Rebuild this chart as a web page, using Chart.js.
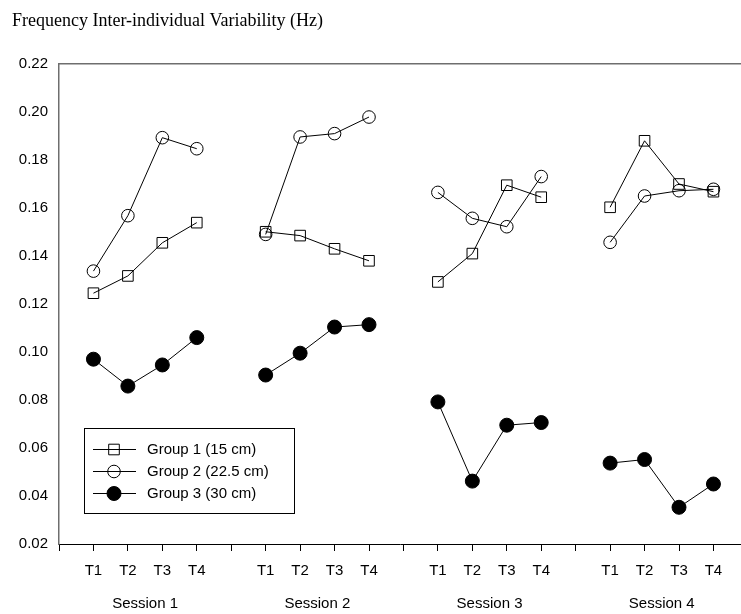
<!DOCTYPE html>
<html>
<head>
<meta charset="utf-8">
<script src="https://cdn.jsdelivr.net/npm/chart.js@4.4.1/dist/chart.umd.min.js"></script>
<style>
  body { margin: 0; background: #fff; }
  #wrap { width: 741px; height: 614px; }
</style>
</head>
<body>
<div id="wrap"><canvas id="freqChart" width="741" height="614"></canvas></div>
<script>
// values per session (T1..T4 of session 1, then session 2, ...)
var timeLabels = ['T1', 'T2', 'T3', 'T4'];
var sessionLabels = ['Session 1', 'Session 2', 'Session 3', 'Session 4'];
var group1 = [0.1245, 0.1317, 0.1455, 0.1539, 0.1501, 0.1485, 0.1430, 0.1380,
              0.1292, 0.1410, 0.1695, 0.1645, 0.1603, 0.1880, 0.1700, 0.1668];
var group2 = [0.1337, 0.1568, 0.1893, 0.1847, 0.1490, 0.1896, 0.1910, 0.1979,
              0.1665, 0.1557, 0.1522, 0.1731, 0.1457, 0.1650, 0.1672, 0.1678];
var group3 = [0.0970, 0.0858, 0.0946, 0.1060, 0.0904, 0.0995, 0.1104, 0.1114,
              0.0792, 0.0462, 0.0695, 0.0706, 0.0537, 0.0552, 0.0353, 0.0450];

var perSession = timeLabels.length;
var slot = perSession + 1;   // one empty tick between sessions

// x = session*5 + t + 1, with a null after each session so lines break
function toPoints(values) {
  var pts = [];
  for (var s = 0; s < sessionLabels.length; s++) {
    for (var t = 0; t < perSession; t++) {
      pts.push({ x: s * slot + t + 1, y: values[s * perSession + t] });
    }
    if (s < sessionLabels.length - 1) pts.push({ x: (s + 1) * slot, y: null });
  }
  return pts;
}

// keep the axis boxes at fixed sizes, no extra side padding
function fixHeight(h) {
  return function(scale) {
    scale.height = h;
    scale.paddingLeft = 0;
    scale.paddingRight = 0;
  };
}

// boxed legend inside the plot: short line with the marker on it
var boxLegend = {
  id: 'boxLegend',
  afterDraw: function(chart, args, opts) {
    var ctx = chart.ctx, area = chart.chartArea;
    var x0 = area.left + opts.left, y0 = area.bottom - opts.bottom - opts.height;
    ctx.save();
    ctx.strokeStyle = '#000';
    ctx.lineWidth = 1;
    ctx.strokeRect(x0 + 0.5, y0 + 0.5, opts.width, opts.height);
    ctx.font = opts.font;
    ctx.textBaseline = 'middle';
    chart.data.datasets.forEach(function(ds, i) {
      var y = Math.round(y0 + opts.firstRow + i * opts.rowGap) + 0.5;
      var mx = x0 + 30;
      ctx.beginPath();
      ctx.moveTo(x0 + 9, y);
      ctx.lineTo(x0 + 52, y);
      ctx.stroke();
      ctx.beginPath();
      if (ds.pointStyle === 'circle') {
        ctx.arc(mx, y, ds.pointRadius, 0, Math.PI * 2);
      } else {
        var h = ds.pointRadius * Math.SQRT1_2;
        ctx.rect(mx - h, y - h, 2 * h, 2 * h);
      }
      ctx.fillStyle = ds.pointBackgroundColor;
      ctx.fill();
      ctx.stroke();
      ctx.fillStyle = '#000';
      ctx.fillText(ds.label, x0 + 63, y);
    });
    ctx.restore();
  }
};

Chart.defaults.color = '#000';
Chart.defaults.font.family = "'Liberation Sans', Arial, sans-serif";
Chart.defaults.font.size = 15;

var canvas = document.getElementById('freqChart');
var freqChart = new Chart(canvas, {
  type: 'line',
  data: {
    datasets: [
      {
        label: 'Group 1 (15 cm)',
        data: toPoints(group1),
        borderColor: '#000',
        borderWidth: 1,
        pointStyle: 'rect',
        pointRadius: 7.5,
        pointBorderColor: '#000',
        pointBackgroundColor: 'rgba(255,255,255,0)',
        pointBorderWidth: 1,
        tension: 0,
        fill: false
      },
      {
        label: 'Group 2 (22.5 cm)',
        data: toPoints(group2),
        borderColor: '#000',
        borderWidth: 1,
        pointStyle: 'circle',
        pointRadius: 6.3,
        pointBorderColor: '#000',
        pointBackgroundColor: 'rgba(255,255,255,0)',
        pointBorderWidth: 1,
        tension: 0,
        fill: false
      },
      {
        label: 'Group 3 (30 cm)',
        data: toPoints(group3),
        borderColor: '#000',
        borderWidth: 1,
        pointStyle: 'circle',
        pointRadius: 7,
        pointBorderColor: '#000',
        pointBackgroundColor: '#000',
        pointBorderWidth: 1,
        tension: 0,
        fill: false
      }
    ]
  },
  options: {
    responsive: false,
    animation: false,
    spanGaps: false,
    layout: { autoPadding: false, padding: { left: 12, right: 0, top: 0, bottom: 1 } },
    plugins: {
      legend: { display: false },
      tooltip: { enabled: false },
      title: {
        display: true,
        text: 'Frequency Inter-individual Variability (Hz)',
        align: 'start',
        color: '#000',
        font: { family: "'Liberation Serif', 'Times New Roman', serif", size: 18, weight: 'normal', lineHeight: 1.2 },
        padding: { top: 10, bottom: 32.4 }
      },
      boxLegend: {
        left: 25, bottom: 31, width: 210, height: 85,
        firstRow: 21, rowGap: 22,
        font: "15px 'Liberation Sans', Arial, sans-serif"
      }
    },
    scales: {
      x: {
        type: 'linear',
        position: 'bottom',
        min: 0,
        max: 19.8,
        weight: 0,
        afterBuildTicks: function(scale) {
          var ticks = [];
          for (var i = 0; i < sessionLabels.length * slot; i++) ticks.push({ value: i });
          scale.ticks = ticks;
        },
        afterFit: fixHeight(36),
        ticks: {
          padding: 11,
          autoSkip: false,
          maxRotation: 0,
          callback: function(v) {
            var k = Math.round(v) % slot;
            return k === 0 ? '' : timeLabels[k - 1];
          }
        },
        grid: { display: true, drawOnChartArea: false, drawTicks: true, tickLength: 7, color: '#000', lineWidth: 1 },
        border: { display: true, color: '#000', width: 1 }
      },
      session: {
        type: 'linear',
        position: 'bottom',
        min: 0,
        max: 19.8,
        weight: 1,
        afterBuildTicks: function(scale) {
          scale.ticks = sessionLabels.map(function(l, s) { return { value: s * slot + 2.5 }; });
        },
        afterFit: fixHeight(33),
        ticks: {
          padding: 15,
          autoSkip: false,
          maxRotation: 0,
          callback: function(v) { return sessionLabels[Math.round((v - 2.5) / slot)]; }
        },
        grid: { display: false, drawTicks: false },
        border: { display: false }
      },
      top: {
        type: 'linear',
        position: 'top',
        afterFit: fixHeight(0),
        ticks: { display: false },
        grid: { display: false, drawTicks: false },
        border: { display: true, color: '#6e6e6e', width: 1.5 }
      },
      y: {
        min: 0.02,
        max: 0.22,
        afterFit: function(scale) { scale.width = 47; },
        ticks: {
          stepSize: 0.02,
          padding: 11,
          callback: function(v) { return v.toFixed(2); }
        },
        grid: { display: false, drawTicks: false },
        border: { display: true, color: '#6e6e6e', width: 1.5 }
      }
    }
  },
  plugins: [boxLegend]
});
</script>
</body>
</html>
